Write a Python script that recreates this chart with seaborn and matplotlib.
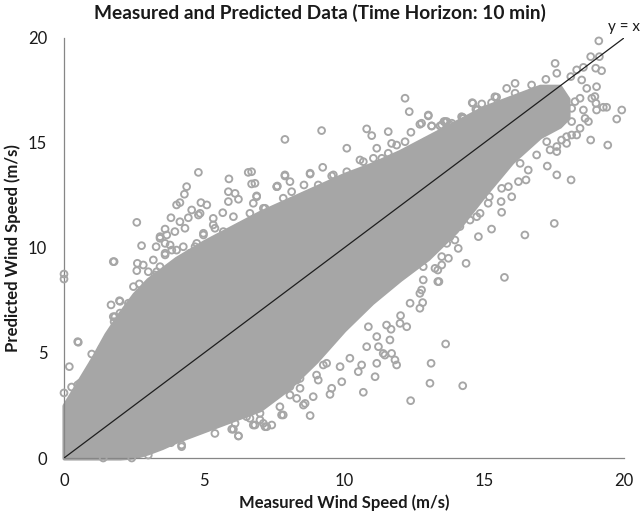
import matplotlib
matplotlib.use("Agg")
import matplotlib.pyplot as plt
import seaborn as sns
import pandas as pd

# ---- data ----
# dense core of the point cloud (where the markers merge into solid grey)
core_x  = [0, 0.5, 1, 1.5, 2, 2.5, 3, 3.5, 4, 5, 6, 7, 8, 9, 10, 11, 12, 13, 14, 15, 16, 17, 17.7, 18.0]
core_lo = [0, 0, 0, 0, 0, 0.05, 0.25, 0.5, 0.8, 1.3, 1.8, 2.3, 3.3, 4.6, 6.1, 7.4, 8.5, 9.5, 10.8, 12.5, 14.1, 15.3, 15.8, 16.2]
core_hi = [2.5, 3.6, 4.7, 5.9, 6.9, 7.8, 8.5, 9.0, 9.5, 10.3, 11.0, 11.7, 12.3, 12.9, 13.5, 14.0, 14.6, 15.3, 16.0, 16.7, 17.2, 17.7, 17.7, 17.1]

# individually visible markers around the core
measured = [
    0.0, 0.0, 0.49, 0.19, 0.99, 1.38, 0.27, 0.49, 0.89, 0.0, 1.76, 1.68, 1.98, 1.76, 1.79,
    2.62, 2.83, 2.69, 2.60, 2.30, 2.48, 2.00, 1.40, 1.05, 0.57, 0.81, 3.61, 3.43, 3.01, 2.71,
    4.20, 3.82, 4.50, 5.39, 5.99, 6.23, 6.76, 7.12, 7.42, 6.11, 6.40, 3.37, 3.01, 2.42, 1.40,
    6.82, 7.18, 7.83, 8.79, 8.55, 8.31, 8.90, 9.50, 9.56, 9.92, 10.69, 11.11, 10.51, 11.17,
    11.46, 11.88, 11.70, 10.63, 12.38, 13.11, 13.07, 13.35, 12.71, 12.81, 12.24, 12.00, 11.23,
    10.81, 10.21, 9.86, 9.38, 9.08, 8.43, 8.07, 7.71, 7.00, 6.52, 12.71, 12.83, 13.35,
    15.73, 13.63, 14.24, 14.36, 13.39, 13.73, 13.49, 12.36, 12.02, 11.68, 12.77,
    17.54, 19.10, 18.81, 19.12, 19.20, 18.99, 18.31, 18.55, 17.60, 17.21, 16.11, 16.70, 15.81,
    15.39, 16.11, 14.92, 14.58, 14.71, 15.27, 14.24, 13.57, 13.85, 19.92, 19.74, 19.26, 19.38,
    19.42, 18.81, 19.02, 18.73, 18.61, 18.96, 19.00, 18.85, 19.02, 18.67, 18.49, 18.10, 18.25,
    18.43, 18.55, 18.43, 18.13, 18.31, 18.13, 17.95, 17.77, 17.95, 17.60, 17.36, 17.60, 17.24,
    17.71, 17.89, 18.13, 17.26, 17.60, 18.11, 16.88, 16.58, 16.50, 16.29, 16.23, 15.99, 15.63,
    15.61, 15.27, 14.86, 14.74, 14.80, 16.46, 17.51, 15.87, 15.63, 15.15, 15.19, 14.50, 14.14,
    13.96, 13.67, 15.45, 14.60, 14.76, 14.26, 13.01, 13.13, 13.43, 12.77, 13.61, 13.79,
    12.18, 12.33, 13.01, 12.71, 12.39, 11.58, 10.81, 10.99, 9.20, 7.89, 10.10, 9.24, 8.79, 9.56,
    10.10, 11.17, 11.70, 11.88, 12.18, 11.58, 10.57, 10.69, 11.05, 11.35, 12.92, 13.13, 13.49,
    13.67, 14.20, 7.89, 8.07, 8.57, 7.60, 9.08, 9.62, 6.82, 6.70, 6.88, 7.18, 7.83, 8.13, 6.76,
    6.64, 14.08, 13.79, 13.49, 13.13, 12.83, 13.25,
    4.80, 6.58, 5.89, 6.70, 4.38, 4.30, 5.87, 6.11, 6.88, 5.87, 6.23, 4.14, 4.02, 4.89, 5.10,
    7.60, 7.89, 8.79, 2.60, 2.77, 1.79, 3.82, 4.56, 5.67, 4.80, 5.33, 4.14, 4.44, 3.61, 3.43,
    3.67, 3.96, 4.32, 4.98, 5.39, 6.05, 6.58, 3.79, 4.02, 3.29, 3.61, 3.25, 2.48, 2.00, 1.82,
    1.70, 1.35, 0.51, 4.68, 4.38, 4.86, 5.27, 5.69, 5.93, 7.62,
    8.61, 8.07, 7.77, 7.24, 6.23, 6.05, 4.20, 11.40, 11.82, 11.64, 11.17, 10.87, 11.52, 9.26,
    9.02, 8.31, 8.43, 7.00, 6.64,
    3.43, 3.61, 3.85, 4.26, 4.50, 4.74, 4.98, 5.33, 5.69, 6.05, 6.29, 3.19, 3.31, 3.25, 6.64,
    7.12, 4.86,
]
predicted = [
    8.76, 8.52, 5.54, 4.35, 4.95, 5.19, 3.38, 3.48, 3.71, 3.10, 9.35, 7.29, 7.49, 6.73, 6.49,
    9.27, 9.19, 8.29, 8.92, 7.37, 6.97, 6.90, 4.83, 4.51, 3.56, 3.87, 9.67, 9.11, 8.87, 7.84,
    0.54, 0.73, 1.21, 1.17, 1.37, 1.05, 1.57, 1.65, 1.57, 1.65, 2.13, 0.62, 0.14, 0.00, 0.00,
    1.57, 1.49, 2.05, 2.02, 2.52, 2.84, 2.92, 3.03, 3.32, 3.63, 3.13, 3.87, 4.11, 4.51,
    4.90, 4.43, 4.98, 4.43, 2.73, 4.51, 3.56, 8.40, 7.13, 7.40, 6.25, 6.41, 5.30,
    5.30, 4.75, 4.35, 4.51, 3.71, 3.79, 3.40, 2.44, 1.81, 1.97, 7.84, 8.48, 8.95,
    8.60, 5.43, 3.44, 9.27, 8.40, 9.51, 9.19, 7.37, 6.78, 6.13, 8.00,
    18.79, 19.86, 19.11, 19.11, 18.44, 18.56, 18.48, 18.60, 18.32, 18.03, 17.84, 17.76, 17.60,
    17.20, 17.37, 16.86, 16.92, 16.60, 16.92, 16.22, 16.02, 15.94, 16.57, 16.14, 16.70, 16.70,
    14.90, 15.14, 16.57, 16.02, 16.17, 17.21, 16.89, 17.13, 17.68, 17.60, 18.00, 18.16, 16.97,
    17.13, 16.57, 15.70, 16.02, 15.38, 15.38, 15.30, 15.14, 14.98, 14.83, 14.67, 14.59, 15.06,
    15.94, 16.33, 16.65, 13.90, 13.48, 13.24, 14.43, 13.71, 13.24, 14.03, 13.16, 12.44, 11.70,
    12.21, 10.90, 11.65, 11.49, 10.54, 10.62, 11.17, 12.92, 12.84, 12.13, 12.44, 11.33, 11.02,
    10.38, 10.22, 17.18, 16.89, 16.57, 16.17, 16.33, 15.81, 15.81, 15.94, 16.02, 15.86,
    17.13, 16.49, 16.29, 15.89, 15.51, 15.54, 15.67, 15.35, 15.59, 15.17, 14.75, 13.84, 13.52, 13.43,
    13.63, 14.75, 14.98, 14.90, 15.06, 14.51, 14.19, 14.11, 14.27, 14.27, 15.06, 15.81, 15.86,
    16.02, 16.25, 13.43, 13.16, 13.00, 12.92, 13.00, 13.48, 13.08, 13.63, 12.44, 11.89, 12.37, 12.68, 12.13,
    11.10, 9.98, 10.54, 9.59, 10.06, 9.11, 9.03,
    13.60, 13.60, 13.29, 13.05, 12.92, 12.56, 12.68, 12.60, 12.48, 12.21, 12.32, 12.16, 12.05, 12.16, 12.05,
    12.92, 13.48, 13.56, 11.22, 10.11, 9.35, 11.44, 11.81, 11.68, 11.57, 11.41, 11.25, 11.44, 10.90, 10.46,
    10.62, 10.78, 10.94, 10.70, 10.94, 11.49, 11.10, 10.14, 9.90, 10.06, 9.75, 8.71, 8.16, 7.46, 6.73,
    5.78, 5.22, 5.51, 10.06, 9.59, 9.27, 9.98, 10.78, 10.38, 12.95,
    2.60, 3.00, 2.05, 1.49, 1.05, 1.37, 0.62, 4.98, 4.67, 5.62, 5.78, 6.25, 6.33, 4.43,
    3.95, 3.71, 3.32, 2.13, 1.89,
    10.54, 10.22, 9.90, 10.06, 9.75, 10.22, 10.62, 11.10, 10.38, 10.70, 11.02, 9.43, 8.87, 8.32, 11.65,
    11.89, 11.65,
]
ref_line = [0, 20]

title = "Measured and Predicted Data (Time Horizon: 10 min)"
xlabel = "Measured Wind Speed (m/s)"
ylabel = "Predicted Wind Speed (m/s)"
ticks = [0, 5, 10, 15, 20]

df = pd.DataFrame({"measured": measured, "predicted": predicted})

# ---- styling ----
sns.set_style("white")
plt.rcParams["font.family"] = ["Lato", "DejaVu Sans"]

GREY = "#A6A6A6"
AXIS = "#868686"

fig = plt.figure(figsize=(6.4, 5.13), dpi=100)
ax = fig.add_axes([0.1, 0.1072, 0.875, 0.8188])

ax.fill_between(core_x, core_lo, core_hi, facecolor=GREY, edgecolor=GREY,
                linewidth=3.0, zorder=2, clip_on=False)
sns.scatterplot(data=df, x="measured", y="predicted", ax=ax, marker="o", s=24,
                facecolors="none", edgecolors=GREY, linewidth=1.35, zorder=3,
                clip_on=False, legend=False)
sns.lineplot(x=ref_line, y=ref_line, ax=ax, color="#1e1e1e", linewidth=0.9,
             zorder=4)
ax.text(20, 20.5, "y = x", ha="center", va="center", fontsize=11,
        color="#1a1a1a", clip_on=False)

ax.set_xlim(0, 20)
ax.set_ylim(0, 20)
ax.set_xticks(ticks)
ax.set_yticks(ticks)
ax.tick_params(axis="both", direction="out", length=5, width=0.9, color=AXIS,
               labelsize=12, labelcolor="#1a1a1a")
ax.tick_params(axis="x", pad=6)
ax.tick_params(axis="y", pad=7)
for side in ("top", "right"):
    ax.spines[side].set_visible(False)
for side in ("left", "bottom"):
    ax.spines[side].set_color(AXIS)
    ax.spines[side].set_linewidth(0.9)

ax.set_xlabel(xlabel, fontsize=12, fontweight="bold", color="#1a1a1a", labelpad=4)
ax.set_ylabel(ylabel, fontsize=12, fontweight="bold", color="#1a1a1a", labelpad=5)
fig.text(0.5, 0.974, title, ha="center", va="center", fontsize=13.8,
         fontweight="bold", color="#1a1a1a")

fig.savefig("out.png", dpi=100)
